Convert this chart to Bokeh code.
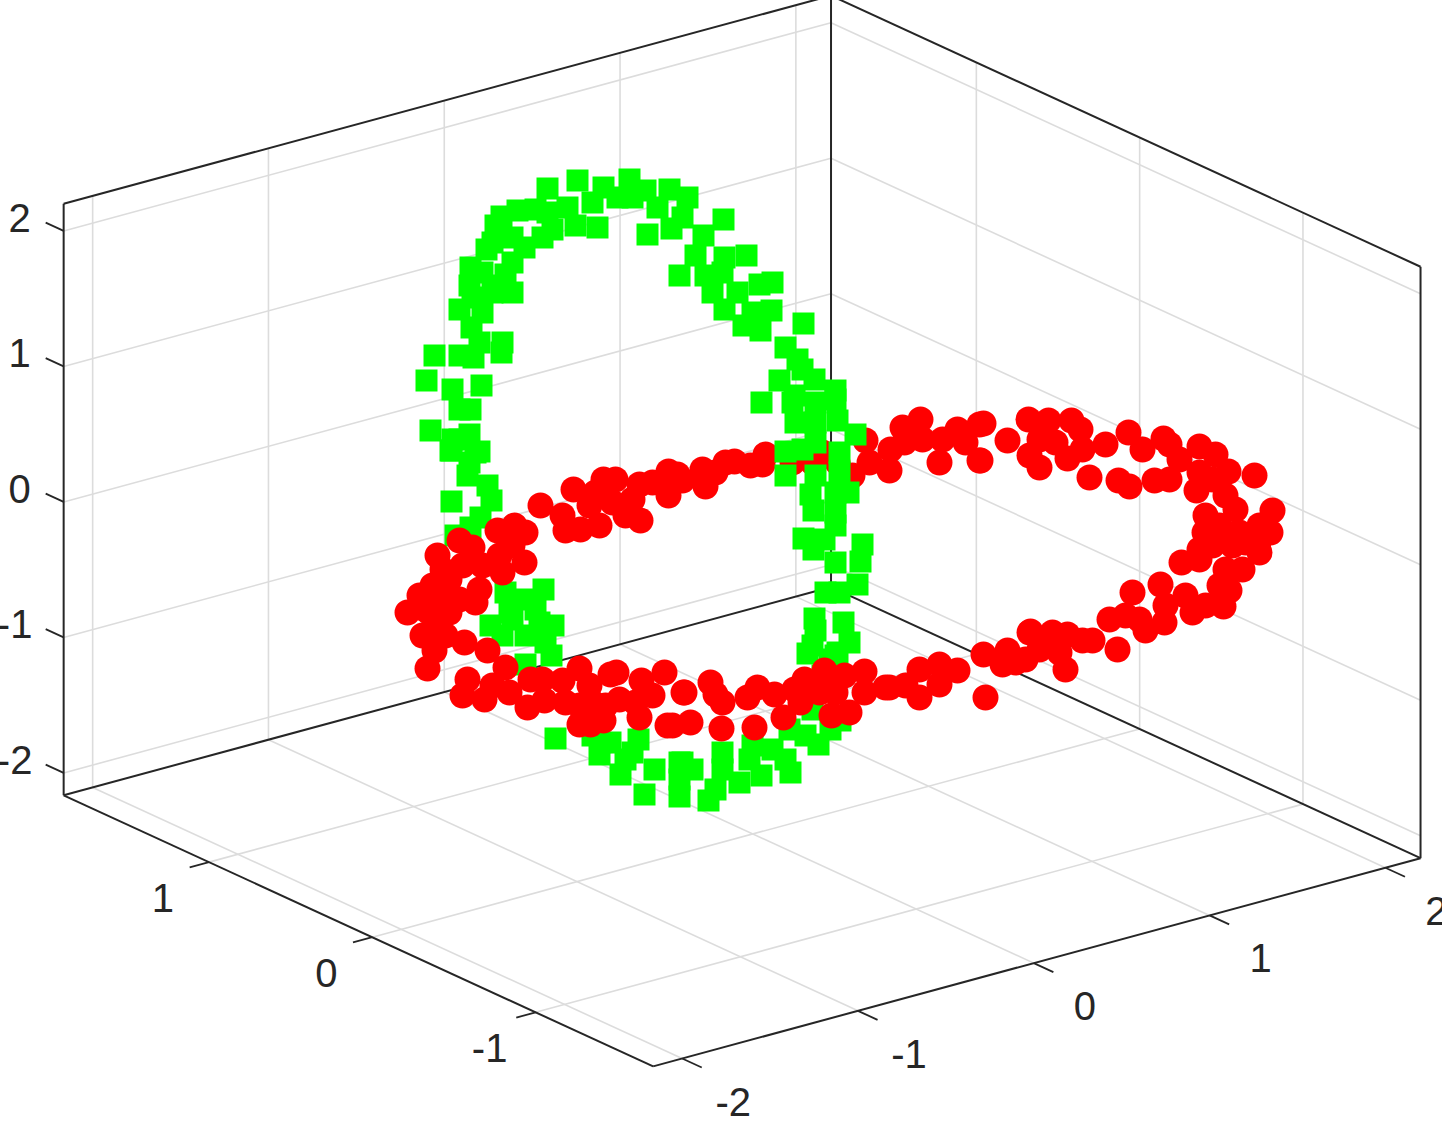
from bokeh.plotting import figure
from bokeh.models import Range1d, ColumnDataSource
from bokeh.core.properties import value
from bokeh.embed import file_html
from bokeh.resources import INLINE

# ring samples, in viewing-plane coordinates
red_back = [(548,513),(581,497),(570,523),(573,538),(588,537),(607,533),(597,513),(611,487),(623,487),(648,528),
(633,523),(620,510),(647,492),(660,490),(676,479),(685,482),(676,503),(640,507),(603,500),(713,494),(710,477),
(690,488),(733,470),(742,469),(758,473),(770,472),(773,462),(723,480),(873,448),(910,435),(928,427),(947,470),
(897,478),(898,457),(912,450),(950,447),(965,437),(987,432),(987,468),(860,483),(877,470),(930,447),(973,450),
(830,460),(800,470),(845,470),(820,470),(991,431),(988,468),(1015,448),(1036,427),(1056,428),(1079,428),(1088,437),
(1037,463),(1047,475),(1075,466),(1063,450),(1047,447),(1090,457),(1113,452),(1097,485),(1136,440),(1126,488),
(1137,494),(1150,457),(1171,446),(1162,488),(1177,487),(1177,452),(1187,467),(1207,454),(1223,462),(1262,483),
(1236,479),(1280,518),(1278,540),(1243,517),(1233,503),(1204,498),(1213,523),(1212,540),(1267,533),(1207,480),
(1220,487),(1227,533),(1247,540),(1253,550),(1267,547),(1207,557)]

red_front = [(1213,540),(1267,560),(1250,577),(1237,598),(1231,614),(1200,620),(1207,567),(1189,570),(1168,592),
(1140,600),(1172,630),(1153,638),(1125,657),(1117,627),(1133,623),(1100,648),(1073,677),(1090,648),(1075,642),
(1060,640),(1038,639),(1033,667),(1015,658),(1010,672),(1067,660),(1047,657),(1227,593),(1213,613),(1193,603),
(1220,553),(1240,553),(1233,577),(1147,627),(1173,613),(993,705),(991,662),(965,678),(947,672),(927,677),(927,705),
(947,692),(897,695),(872,679),(857,720),(839,723),(832,678),(812,687),(791,725),(762,735),(729,736),(698,730),
(680,733),(718,690),(692,700),(723,702),(765,695),(782,702),(755,705),(730,710),(802,697),(808,710),(852,683),
(872,700),(827,700),(843,700),(893,695),(913,693),(1023,670),(1037,640),(675,733),(672,680),(691,700),(649,688),
(624,680),(618,682),(647,725),(598,732),(587,732),(611,728),(587,676),(597,693),(535,715),(552,708),(538,687),
(550,687),(570,688),(573,710),(513,675),(495,658),(492,707),(470,703),(475,687),(500,693),(517,700),(435,676),
(472,650),(442,658),(430,643),(453,643),(415,620),(483,610),(437,620),(457,620),(443,633),(613,713),(627,707),
(643,710),(660,703),(587,713),(600,710),(445,563),(467,548),(480,555),(427,603),(440,593),(487,597),(457,587),
(450,577),(470,573),(505,538),(522,533),(533,540),(532,570),(510,580),(520,553),(507,563),(490,573),(467,607),
(450,607),(433,617)]

green_ring = [(585,188),(555,196),(637,187),(611,195),(677,197),(653,198),(695,205),(731,227),(711,243),(655,242),
(679,236),(605,235),(583,233),(560,237),(543,217),(525,218),(509,224),(503,233),(550,245),(532,255),(494,257),
(478,275),(520,270),(513,282),(507,293),(477,293),(467,317),(479,335),(510,350),(509,360),(487,350),(442,363),
(467,363),(481,365),(434,388),(489,393),(460,397),(467,417),(478,417),(438,438),(477,442),(460,447),(487,459),
(459,458),(555,220),(575,215),(600,210),(625,205),(640,205),(665,215),(690,225),(500,250),(520,245),(490,280),
(500,300),(480,305),(490,320),(520,300),(687,283),(703,263),(754,263),(732,265),(767,292),(713,283),(720,300),
(732,317),(779,318),(751,333),(768,338),(811,331),(793,355),(805,367),(810,377),(787,388),(822,387),(843,398),
(769,410),(802,403),(823,410),(845,428),(803,430),(823,430),(810,457),(780,290),(730,280),(745,300),(760,320),
(800,410),(843,407),(863,442),(793,459),(793,483),(823,450),(847,460),(823,483),(847,480),(856,500),(818,502),
(843,500),(821,518),(843,520),(811,546),(832,547),(843,533),(870,552),(868,569),(865,592),(821,557),(833,600),
(843,570),(847,600),(822,626),(851,630),(823,638),(857,650),(815,661),(845,660),(837,667),(459,509),(483,460),
(458,458),(495,493),(499,508),(488,525),(478,535),(463,543),(475,483),(477,470),(467,447),(551,597),(513,600),
(533,607),(561,633),(498,633),(520,627),(547,630),(559,663),(533,672),(510,643),(533,643),(553,650),(517,620),
(543,617),(563,746),(607,762),(600,743),(618,750),(628,782),(646,747),(652,802),(687,804),(633,767),(662,777),
(687,770),(640,760),(687,787),(716,808),(798,780),(769,783),(747,790),(723,797),(826,752),(838,737),(848,728),
(730,760),(780,757),(700,777),(820,653),(730,777),(757,767),(793,767),(813,743),(690,770),(760,753),(797,737),
(820,717),(843,663),(830,683)]

x_ticks = [-2, -1, 0, 1, 2]
y_ticks = [-1, 0, 1]
z_ticks = [-2, -1, 0, 1, 2]
x_lim = (-2.165, 2.2)
y_lim = (-1.72, 1.89)
z_lim = (-2.165, 2.2)


def proj(x, y, z):
    return (760.4 + 175.8 * x - 163.3 * y, 548.1 - 47.7 * x - 75.1 * y - 135.5 * z)


def seg(a, b):
    pa, pb = proj(*a), proj(*b)
    return [pa[0], pb[0]], [pa[1], pb[1]]


x0, x1 = x_lim
y0, y1 = y_lim
z0, z1 = z_lim

p = figure(width=1450, height=1126, x_range=Range1d(0, 1450), y_range=Range1d(1126, 0),
           output_backend="svg", toolbar_location=None, min_border=0,
           outline_line_color=None, background_fill_color="white", margin=(-8, 0, 0, -8))
p.xaxis.visible = False
p.yaxis.visible = False
p.grid.visible = False

grid = []
for t in x_ticks:
    grid.append(seg((t, y0, z0), (t, y1, z0)))
    grid.append(seg((t, y1, z0), (t, y1, z1)))
for t in y_ticks:
    grid.append(seg((x0, t, z0), (x1, t, z0)))
    grid.append(seg((x1, t, z0), (x1, t, z1)))
for t in z_ticks:
    grid.append(seg((x0, y1, t), (x1, y1, t)))
    grid.append(seg((x1, y1, t), (x1, y0, t)))
p.multi_line([g[0] for g in grid], [g[1] for g in grid], line_color="#dcdcdc", line_width=1.6)

box = [
    seg((x0, y1, z0), (x0, y1, z1)), seg((x1, y1, z0), (x1, y1, z1)), seg((x1, y0, z0), (x1, y0, z1)),
    seg((x0, y1, z1), (x1, y1, z1)), seg((x1, y1, z1), (x1, y0, z1)),
    seg((x0, y0, z0), (x1, y0, z0)), seg((x0, y0, z0), (x0, y1, z0)),
    seg((x0, y1, z0), (x1, y1, z0)), seg((x1, y1, z0), (x1, y0, z0)),
]
ticks = []
for t in x_ticks:
    ticks.append(seg((t, y0, z0), (t, y0 - 0.12, z0)))
for t in y_ticks:
    ticks.append(seg((x0, t, z0), (x0 - 0.11, t, z0)))
for t in z_ticks:
    ticks.append(seg((x0, y1, t), (x0, y1 + 0.11, t)))
p.multi_line([g[0] for g in box], [g[1] for g in box], line_color="#262626", line_width=2)
p.multi_line([g[0] for g in ticks], [g[1] for g in ticks], line_color="#262626", line_width=1.8)


def scatter(points, marker, size, color):
    p.scatter([q[0] for q in points], [q[1] for q in points], marker=marker, size=size,
              fill_color=color, line_color=None)


scatter(red_back, "circle", 26, "#ff0000")
scatter(green_ring, "square", 22, "#00ff00")
scatter(red_front, "circle", 26, "#ff0000")

lx, ly, lt = [], [], []
for t in x_ticks:
    q = proj(t, y0, z0)
    lx.append(q[0] + 51); ly.append(q[1] + 43); lt.append(str(t))
for t in y_ticks:
    q = proj(x0, t, z0)
    lx.append(q[0] - 46); ly.append(q[1] + 36); lt.append(str(t))
for t in z_ticks:
    q = proj(x0, y1, t)
    lx.append(q[0] - (49 if t < 0 else 44)); ly.append(q[1] - 13); lt.append(str(t))
p.text(x="x", y="y", text="t", source=ColumnDataSource(dict(x=lx, y=ly, t=lt)),
       text_font=value("Liberation Sans"), text_font_size="40px", text_color="#262626",
       text_align="center", text_baseline="middle")

open("out.html", "w").write(file_html(p, INLINE))
